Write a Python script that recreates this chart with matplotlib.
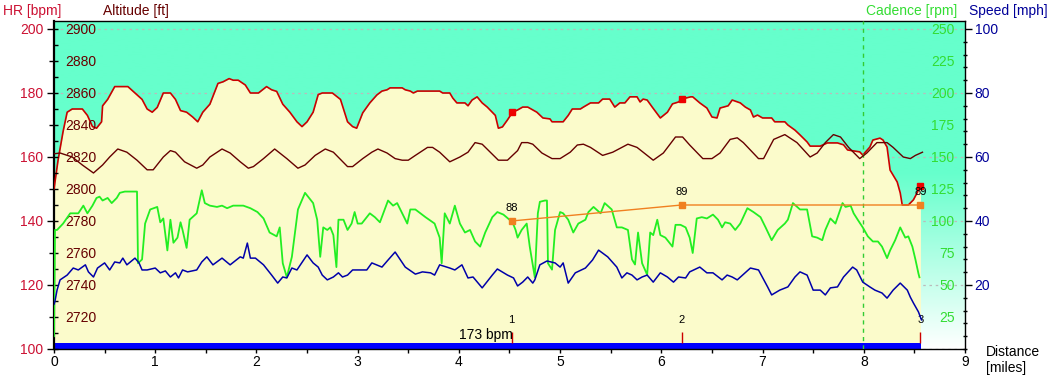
import matplotlib
matplotlib.use("Agg")
import matplotlib.pyplot as plt
import numpy as np
from matplotlib.ticker import MultipleLocator

plt.rcParams['font.family'] = ['Liberation Sans', 'DejaVu Sans']
plt.rcParams['font.size'] = 10

# ---------------- data (distance in miles) ----------------
hr_dist = [0.00, 0.04, 0.09, 0.13, 0.18, 0.28, 0.33, 0.38, 0.42, 0.47,
           0.48, 0.53, 0.60, 0.73, 0.80, 0.87, 0.92, 0.97, 1.02, 1.08,
           1.15, 1.20, 1.25, 1.31, 1.37, 1.42, 1.47, 1.54, 1.62, 1.67,
           1.73, 1.77, 1.82, 1.89, 1.94, 2.02, 2.10, 2.15, 2.20, 2.26,
           2.33, 2.40, 2.45, 2.50, 2.56, 2.61, 2.65, 2.75, 2.83, 2.90,
           2.95, 2.99, 3.05, 3.12, 3.19, 3.24, 3.29, 3.32, 3.44, 3.47,
           3.52, 3.55, 3.59, 3.81, 3.84, 3.91, 3.94, 3.98, 4.06, 4.09,
           4.13, 4.18, 4.23, 4.28, 4.33, 4.36, 4.39, 4.43, 4.48, 4.53,
           4.58, 4.63, 4.68, 4.77, 4.83, 4.90, 4.92, 5.03, 5.08, 5.12,
           5.20, 5.23, 5.30, 5.38, 5.42, 5.49, 5.54, 5.59, 5.64, 5.69,
           5.76, 5.79, 5.82, 5.86, 5.91, 5.99, 6.06, 6.11, 6.17, 6.20,
           6.29, 6.31, 6.38, 6.45, 6.50, 6.55, 6.58, 6.66, 6.70, 6.78,
           6.83, 6.88, 6.91, 6.95, 7.00, 7.09, 7.12, 7.22, 7.25, 7.32,
           7.37, 7.44, 7.47, 7.57, 7.64, 7.74, 7.80, 7.84, 7.96, 7.99,
           8.06, 8.09, 8.16, 8.19, 8.23, 8.26, 8.33, 8.36, 8.38, 8.44,
           8.49, 8.53, 8.56]
hr_bpm = [150, 159, 168, 174, 175, 175, 173, 169.5, 169, 171,
          176, 178, 182, 182, 180, 178, 175, 174, 175.5, 180,
          180, 178, 174.5, 174, 172.5, 171, 174, 176.5, 183, 183.5,
          184.5, 184, 184, 182.5, 180, 180, 182, 181, 180.5, 176.5,
          174, 171, 169.5, 171, 174, 179.5, 180, 180, 178, 171,
          169.5, 169, 173.8, 176.9, 179.4, 180.6, 181, 181.6, 181.6, 181,
          180.6, 180, 180.6, 180.6, 180, 180, 178.4, 176.9, 176.9, 176,
          177.8, 178.8, 176.9, 175.6, 174, 173, 169, 169.4, 171.6, 174,
          174.7, 175.6, 175.6, 174, 172.2, 171.9, 171, 171, 173, 175,
          175, 175.6, 176.9, 176.9, 178.1, 178.1, 175.6, 176.9, 176.9, 178.8,
          178.8, 177.2, 178.1, 177.8, 175.6, 172.2, 174, 176.6, 177.2, 178.1,
          178.8, 178.8, 176.9, 175.3, 172.5, 172.2, 175.3, 176, 177.8, 176.9,
          175.6, 174.7, 172.5, 173.1, 172.2, 172.2, 171, 171, 170, 168.4,
          166.9, 164.7, 163.4, 163.4, 164.4, 164.4, 163.8, 162.2, 161.6, 160.6,
          163.1, 165.3, 165.9, 165.3, 163.1, 155.9, 152.2, 148.8, 145, 145,
          146.6, 149, 151.2]

alt_dist = [0.00, 0.06, 0.18, 0.28, 0.39, 0.48, 0.55, 0.63, 0.72, 0.82,
            0.92, 0.98, 1.08, 1.15, 1.20, 1.29, 1.41, 1.47, 1.54, 1.66,
            1.74, 1.84, 1.92, 1.97, 2.07, 2.18, 2.30, 2.41, 2.48, 2.58,
            2.68, 2.76, 2.90, 2.95, 3.05, 3.14, 3.20, 3.29, 3.37, 3.44,
            3.50, 3.57, 3.69, 3.74, 3.81, 3.91, 4.01, 4.09, 4.16, 4.23,
            4.31, 4.39, 4.48, 4.58, 4.62, 4.68, 4.73, 4.82, 4.92, 5.00,
            5.10, 5.17, 5.23, 5.30, 5.42, 5.52, 5.67, 5.76, 5.86, 5.92,
            6.02, 6.14, 6.21, 6.28, 6.41, 6.50, 6.58, 6.68, 6.75, 6.81,
            6.96, 7.01, 7.11, 7.22, 7.34, 7.47, 7.54, 7.62, 7.70, 7.77,
            7.85, 7.96, 8.03, 8.13, 8.23, 8.29, 8.39, 8.46, 8.51, 8.58]
alt_ft = [2822, 2822.5, 2820, 2815, 2810, 2815, 2820, 2825, 2823, 2818,
          2812, 2812, 2820, 2824, 2823, 2817, 2813, 2815, 2820, 2825,
          2822.5, 2817, 2813, 2814, 2819, 2825, 2819, 2813, 2815, 2821,
          2825, 2823, 2814, 2814, 2819, 2823, 2825, 2822.5, 2819, 2818,
          2818, 2821, 2826, 2826, 2823, 2817, 2820, 2823, 2829, 2828,
          2823, 2818, 2818, 2824, 2829, 2829, 2828, 2822.5, 2819, 2819,
          2823, 2827.5, 2828, 2826, 2821, 2823, 2828, 2826, 2821, 2818,
          2822.5, 2832.5, 2832.5, 2827.5, 2819, 2819, 2822.5, 2831, 2832, 2829,
          2819, 2819, 2831, 2834, 2829, 2820, 2822.5, 2829, 2834, 2832.5,
          2826, 2819, 2822.5, 2829, 2829, 2826, 2820, 2819, 2821, 2823]

cad_dist = [0.00, 0.01, 0.03, 0.09, 0.16, 0.24, 0.29, 0.33, 0.38, 0.42,
            0.45, 0.48, 0.53, 0.57, 0.62, 0.65, 0.70, 0.82, 0.83, 0.87,
            0.90, 0.95, 1.02, 1.05, 1.08, 1.12, 1.15, 1.18, 1.22, 1.25,
            1.27, 1.31, 1.34, 1.41, 1.46, 1.49, 1.54, 1.61, 1.66, 1.71,
            1.77, 1.87, 1.94, 2.01, 2.07, 2.13, 2.20, 2.23, 2.26, 2.30,
            2.35, 2.41, 2.48, 2.56, 2.60, 2.63, 2.66, 2.70, 2.73, 2.76,
            2.79, 2.81, 2.86, 2.90, 2.94, 2.97, 3.00, 3.04, 3.12, 3.17,
            3.22, 3.30, 3.35, 3.39, 3.44, 3.49, 3.52, 3.57, 3.67, 3.76,
            3.81, 3.83, 3.86, 3.91, 3.96, 4.01, 4.06, 4.11, 4.16, 4.21,
            4.26, 4.33, 4.38, 4.44, 4.53, 4.56, 4.58, 4.62, 4.67, 4.70,
            4.75, 4.78, 4.80, 4.85, 4.87, 4.88, 4.92, 4.95, 5.00, 5.03,
            5.08, 5.13, 5.18, 5.25, 5.28, 5.33, 5.40, 5.44, 5.51, 5.56,
            5.61, 5.67, 5.71, 5.74, 5.77, 5.81, 5.86, 5.89, 5.92, 5.96,
            5.99, 6.04, 6.11, 6.14, 6.19, 6.24, 6.28, 6.31, 6.35, 6.40,
            6.45, 6.51, 6.56, 6.60, 6.63, 6.68, 6.73, 6.78, 6.85, 6.91,
            6.98, 7.03, 7.09, 7.15, 7.22, 7.25, 7.30, 7.37, 7.44, 7.49,
            7.54, 7.59, 7.62, 7.67, 7.72, 7.79, 7.82, 7.87, 7.90, 7.94,
            7.99, 8.04, 8.09, 8.14, 8.18, 8.23, 8.26, 8.31, 8.36, 8.41,
            8.44, 8.48, 8.51, 8.54, 8.55]
cad_rpm = [10, 93, 93, 98, 106, 106, 112, 106, 112, 118,
           119, 116, 118, 114, 118, 122, 123, 123, 67, 70,
           98, 109, 111, 99, 102, 77, 101, 83, 87, 99,
           93, 79, 101, 106, 124, 114, 112, 111, 112, 110,
           112, 112, 110, 107, 102, 91, 88, 95, 67, 56,
           72, 109, 122, 114, 101, 72, 95, 93, 95, 89,
           64, 101, 101, 93, 98, 107, 98, 98, 106, 103,
           99, 116, 112, 114, 106, 98, 109, 109, 103, 98,
           87, 67, 106, 98, 112, 98, 91, 93, 84, 80,
           91, 103, 107, 105, 99, 93, 87, 93, 98, 80,
           56, 106, 115, 116, 116, 67, 62, 93, 107, 106,
           101, 91, 98, 101, 107, 111, 106, 114, 109, 95,
           95, 93, 70, 66, 91, 67, 58, 91, 89, 101,
           89, 87, 80, 97, 97, 95, 87, 75, 102, 103,
           102, 105, 101, 95, 99, 98, 93, 98, 110, 107,
           103, 95, 85, 93, 98, 101, 114, 109, 109, 88,
           87, 85, 93, 102, 98, 114, 111, 112, 106, 101,
           95, 88, 84, 84, 80, 71, 77, 85, 95, 87,
           88, 80, 70, 59, 56]

spd_dist = [0.00, 0.01, 0.03, 0.06, 0.13, 0.19, 0.24, 0.31, 0.34, 0.39,
            0.43, 0.50, 0.55, 0.60, 0.65, 0.68, 0.72, 0.80, 0.84, 0.87,
            0.92, 1.00, 1.05, 1.10, 1.15, 1.20, 1.23, 1.27, 1.32, 1.41,
            1.46, 1.51, 1.57, 1.66, 1.74, 1.84, 1.87, 1.91, 1.94, 1.99,
            2.07, 2.15, 2.21, 2.26, 2.30, 2.35, 2.40, 2.50, 2.56, 2.61,
            2.65, 2.70, 2.76, 2.81, 2.85, 2.90, 2.95, 3.09, 3.14, 3.24,
            3.30, 3.37, 3.47, 3.57, 3.64, 3.72, 3.76, 3.81, 3.91, 3.96,
            4.03, 4.09, 4.14, 4.23, 4.33, 4.38, 4.48, 4.54, 4.58, 4.63,
            4.68, 4.73, 4.75, 4.80, 4.87, 4.95, 5.00, 5.03, 5.08, 5.15,
            5.25, 5.32, 5.38, 5.47, 5.56, 5.61, 5.66, 5.71, 5.76, 5.81,
            5.86, 5.92, 5.99, 6.06, 6.12, 6.17, 6.24, 6.28, 6.38, 6.45,
            6.51, 6.60, 6.65, 6.70, 6.75, 6.88, 6.96, 7.05, 7.09, 7.17,
            7.25, 7.32, 7.37, 7.44, 7.50, 7.57, 7.62, 7.67, 7.74, 7.80,
            7.89, 7.93, 7.99, 8.06, 8.11, 8.18, 8.23, 8.29, 8.36, 8.43,
            8.46, 8.49, 8.54, 8.57]
spd_mph = [14, 15, 18.4, 21.6, 23.1, 25.3, 24.7, 26.3, 24.1, 22.5,
           25.3, 26.9, 24.7, 27.2, 26.9, 28.4, 26.3, 28.4, 26.9, 24.7,
           24.7, 25.3, 23.8, 24.4, 22.5, 23.8, 22.2, 24.7, 24.1, 24.7,
           27.2, 28.8, 26.3, 28.4, 26.3, 28.8, 28.4, 33.1, 28.4, 28.4,
           26.3, 23.1, 20.6, 22.5, 22.2, 25.3, 24.7, 29.4, 26.9, 25.6,
           23.1, 21.6, 22.5, 23.8, 22.5, 23.1, 24.7, 24.7, 26.9, 25.6,
           27.8, 30.3, 25.6, 23.4, 24.1, 23.8, 23.1, 26.3, 25.3, 24.7,
           26.3, 22.2, 22.5, 19.1, 23.1, 25, 23.1, 22.2, 19.7, 20.9,
           22.5, 20.6, 21.6, 26.3, 27.5, 26.9, 25.6, 26.9, 20.6, 23.8,
           25.3, 27.8, 30.9, 28.8, 25.6, 22.2, 23.8, 23.1, 21.6, 22.5,
           23.1, 20.9, 23.8, 22.5, 20.9, 22.5, 22.2, 24.1, 25.6, 23.8,
           23.8, 21.6, 23.1, 22.5, 21.6, 25.3, 24.7, 19.4, 16.9, 18.4,
           19.4, 22.5, 24.1, 23.1, 18.4, 18.4, 16.9, 19.1, 19.4, 22.5,
           25.6, 24.7, 20.9, 19.4, 18.4, 17.5, 15.9, 18.4, 20.6, 18.4,
           16.2, 14.4, 11.6, 9.1]

lap_dist = [4.52, 6.20, 8.56]
lap_hr = [174, 178, 151]
lap_names = ['1', '2', '3']
lap_avg_labels = ['88', '89', '89']
lap_avg_plot = [100, 112.5, 112.5]   # drawn on cadence scale
marker_dist = 7.99
hr_note = '173 bpm'

x_ticks = list(range(10))
hr_ticks = [100, 120, 140, 160, 180, 200]
alt_ticks = [2720, 2740, 2760, 2780, 2800, 2820, 2840, 2860, 2880, 2900]
cad_ticks = [25, 50, 75, 100, 125, 150, 175, 200, 225, 250]
spd_ticks = [20, 40, 60, 80, 100]

# ---------------- styling ----------------
TEAL = np.array([0x66, 0xFF, 0xCC]) / 255.0
YELLOW = '#FBFBCB'
HR_C = '#CC0000'
HR_LBL = '#CC1133'
ALT_C = '#660000'
CAD_C = '#22EE22'
CAD_LBL = '#33DD33'
SPD_C = '#0000AA'
SPD_LBL = '#000099'

W, H = 1055, 377
fig = plt.figure(figsize=(W / 100, H / 100), dpi=100)
fig.patch.set_facecolor('white')
Lp, Rp, Tp, Bp = 54, 965, 21, 349
ax = fig.add_axes([Lp / W, 1 - Bp / H, (Rp - Lp) / W, (Bp - Tp) / H])

HR_LIM = (100, 202.5)
# background gradient (teal -> white towards bottom)
n = 300
hv = np.linspace(HR_LIM[1], HR_LIM[0], n)
t = np.clip((155 - hv) / 55.0, 0, 1)[:, None]
rgb = TEAL[None, :] * (1 - t) + np.ones(3)[None, :] * t
ax.imshow(rgb[:, None, :], extent=[0, 9, HR_LIM[0], HR_LIM[1]], aspect='auto',
          zorder=0, interpolation='bilinear')
ax.set_xlim(0, 9)
ax.set_ylim(*HR_LIM)

ax.set_axisbelow(True)
ax.yaxis.grid(True, which='major', color='#BBBBBB', linestyle=(0, (2, 3)), lw=0.9)

ax.fill_between(hr_dist, HR_LIM[0], hr_bpm, color=YELLOW, lw=0, zorder=1)
ax.plot(hr_dist, hr_bpm, color=HR_C, lw=1.2, zorder=3)

# distance band at bottom
ax.fill_between([0, spd_dist[-1]], HR_LIM[0], 101.9, color='#0000FF', lw=0, zorder=2)

# laps
ax.vlines(lap_dist, 101.9, 105.3, color=HR_C, lw=1, zorder=3)
for d, nm in zip(lap_dist, lap_names):
    ax.text(d, 109.2, nm, ha='center', va='center', fontsize=8, color='black', zorder=6)
ax.plot(lap_dist, lap_hr, 's', color='#EE0000', ms=4.5, zorder=4)
ax.text(lap_dist[0] + 0.01, 104.4, hr_note, ha='right', va='center', fontsize=10,
        color='black', zorder=6)

ax.axvline(marker_dist, color='#33CC33', lw=1, ls=(0, (3, 3)), zorder=5)

# axes styling
ax.set_xticks(x_ticks)
ax.xaxis.set_minor_locator(MultipleLocator(0.5))
ax.tick_params(axis='x', which='major', direction='out', length=3, width=1, pad=1.5,
               labelsize=10)
ax.tick_params(axis='x', which='minor', direction='out', length=3, width=1)
ax.set_yticks(hr_ticks)
ax.yaxis.set_minor_locator(MultipleLocator(10))
ax.tick_params(axis='y', which='major', direction='out', length=5, width=1, pad=2.5,
               labelcolor=HR_LBL, labelsize=10)
ax.tick_params(axis='y', which='minor', direction='out', length=3.5, width=1)
for s in ax.spines.values():
    s.set_color('black')
    s.set_linewidth(1)
ax.spines['left'].set_linewidth(1.6)

# altitude axis
ax_alt = ax.twinx()
ax_alt.set_ylim(2700, 2905)
ax_alt.plot(alt_dist, alt_ft, color=ALT_C, lw=1.0)
ax_alt.yaxis.set_ticks_position('left')
ax_alt.set_yticks(alt_ticks)
ax_alt.yaxis.set_minor_locator(MultipleLocator(10))
ax_alt.tick_params(axis='y', which='both', direction='in', length=3, width=1, pad=-8,
                   labelcolor=ALT_C, labelsize=10, labelleft=True, labelright=False)
for lb in ax_alt.get_yticklabels():
    lb.set_horizontalalignment('left')

# cadence axis
ax_cad = ax.twinx()
ax_cad.set_ylim(0, 256.25)
ax_cad.plot(cad_dist, cad_rpm, color=CAD_C, lw=1.3)
ax_cad.plot(lap_dist, lap_avg_plot, '-s', color='#F08020', ms=4, lw=1)
for d, v, lb in zip(lap_dist, lap_avg_plot, lap_avg_labels):
    ax_cad.annotate(lb, (d, v), xytext=(0, 6), textcoords='offset points',
                    ha='center', va='bottom', fontsize=8, color='black')
ax_cad.set_yticks(cad_ticks)
ax_cad.tick_params(axis='y', direction='in', length=0, pad=-7.5, labelcolor=CAD_LBL,
                   labelsize=10)
for lb in ax_cad.get_yticklabels():
    lb.set_horizontalalignment('right')

# speed axis
ax_spd = ax.twinx()
ax_spd.set_ylim(0, 102.5)
ax_spd.plot(spd_dist, spd_mph, color=SPD_C, lw=1.1)
ax_spd.set_yticks(spd_ticks)
ax_spd.yaxis.set_minor_locator(MultipleLocator(4))
ax_spd.tick_params(axis='y', which='major', direction='out', length=5, width=1, pad=2,
                   labelcolor=SPD_LBL, labelsize=10)
ax_spd.tick_params(axis='y', which='minor', direction='inout', length=3, width=1)

for a in (ax_alt, ax_cad, ax_spd):
    for s in a.spines.values():
        s.set_visible(False)

# titles
fig.text(3 / W, 1 - 11 / H, 'HR [bpm]', color=HR_LBL, ha='left', va='center', fontsize=10)
fig.text(103 / W, 1 - 11 / H, 'Altitude [ft]', color=ALT_C, ha='left', va='center', fontsize=10)
fig.text(866 / W, 1 - 11 / H, 'Cadence [rpm]', color=CAD_LBL, ha='left', va='center', fontsize=10)
fig.text(969 / W, 1 - 11 / H, 'Speed [mph]', color=SPD_LBL, ha='left', va='center', fontsize=10)
fig.text(986 / W, 1 - 352 / H, 'Distance', color='black', ha='left', va='center', fontsize=10)
fig.text(986 / W, 1 - 368 / H, '[miles]', color='black', ha='left', va='center', fontsize=10)

fig.savefig('out.png', dpi=100)
